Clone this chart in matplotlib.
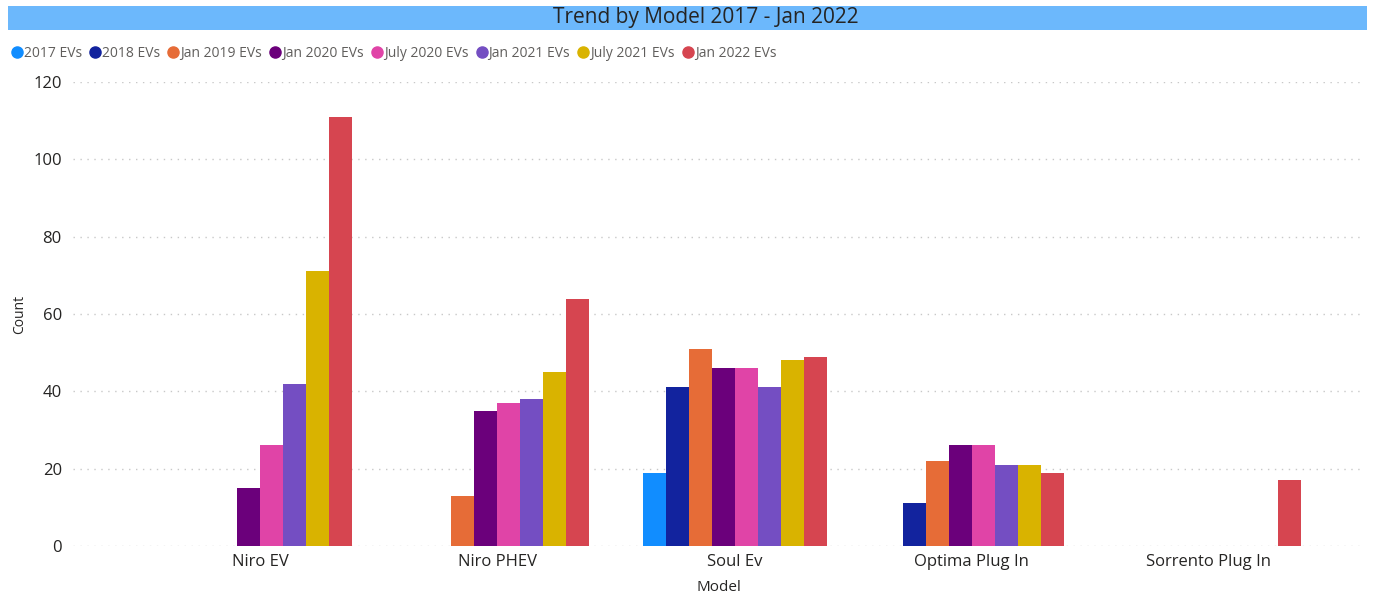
import matplotlib.pyplot as plt
import numpy as np
from matplotlib.lines import Line2D
from matplotlib.patches import Rectangle

# Data
models = ['Niro EV', 'Niro PHEV', 'Soul Ev', 'Optima Plug In', 'Sorrento Plug In']
series_names = ['2017 EVs', '2018 EVs', 'Jan 2019 EVs', 'Jan 2020 EVs',
                'July 2020 EVs', 'Jan 2021 EVs', 'July 2021 EVs', 'Jan 2022 EVs']
ev_2017 = [np.nan, np.nan, 19, np.nan, np.nan]
ev_2018 = [np.nan, np.nan, 41, 11, np.nan]
ev_jan2019 = [np.nan, 13, 51, 22, np.nan]
ev_jan2020 = [15, 35, 46, 26, np.nan]
ev_jul2020 = [26, 37, 46, 26, np.nan]
ev_jan2021 = [42, 38, 41, 21, np.nan]
ev_jul2021 = [71, 45, 48, 21, np.nan]
ev_jan2022 = [111, 64, 49, 19, 17]
series = [ev_2017, ev_2018, ev_jan2019, ev_jan2020,
          ev_jul2020, ev_jan2021, ev_jul2021, ev_jan2022]
colors = ['#118DFF', '#12239E', '#E66C37', '#6B007B',
          '#E044A7', '#744EC2', '#D9B300', '#D64550']

plt.rcParams['font.family'] = ['Open Sans', 'DejaVu Sans']

fig = plt.figure(figsize=(13.75, 6.01), dpi=100, facecolor='white')
ax = fig.add_axes([0.053, 0.0915, 0.94, 0.772])

x = np.arange(len(models))
n = len(series)
bar_w = 0.097
for i, (vals, c, name) in enumerate(zip(series, colors, series_names)):
    offs = (i - (n - 1) / 2) * bar_w
    ax.bar(x + offs, vals, width=bar_w, color=c, label=name, zorder=3, linewidth=0)

ax.set_xlim(-0.79, 4.66)
ax.set_ylim(0, 120)
ax.set_yticks(range(0, 121, 20))
ax.set_xticks(x)
ax.set_xticklabels(models, fontsize=12, color='#252423')
ax.tick_params(axis='y', labelsize=12, colors='#252423', length=0, pad=8)
ax.tick_params(axis='x', length=0, pad=6)
ax.grid(axis='y', linestyle=(0, (1, 4)), color='#c8c8c8', linewidth=1, zorder=0)
for s in ax.spines.values():
    s.set_visible(False)
ax.set_xlabel('Model', fontsize=11, color='#252423', labelpad=7)
ax.set_ylabel('Count', fontsize=10, color='#252423', labelpad=4)

# Title banner
fig.patches.append(Rectangle((8 / 1375, 1 - 30 / 601), 1359 / 1375, 24 / 601,
                             transform=fig.transFigure, facecolor='#6CB8FC',
                             edgecolor='none', zorder=0))
fig.text(706 / 1375, 1 - 18 / 601, 'Trend by Model 2017 - Jan 2022',
         ha='center', va='center', fontsize=15, color='#252423')

# Legend
handles = [Line2D([0], [0], marker='o', linestyle='none', markersize=8,
                  markerfacecolor=c, markeredgecolor=c) for c in colors]
fig.legend(handles, series_names, loc='upper left', bbox_to_anchor=(-0.002, 0.945),
           ncol=8, frameon=False, fontsize=10, handletextpad=0.0,
           columnspacing=0.45, handlelength=1.0, labelcolor='#605E5C')

plt.savefig('out.png', dpi=100, facecolor='white')
